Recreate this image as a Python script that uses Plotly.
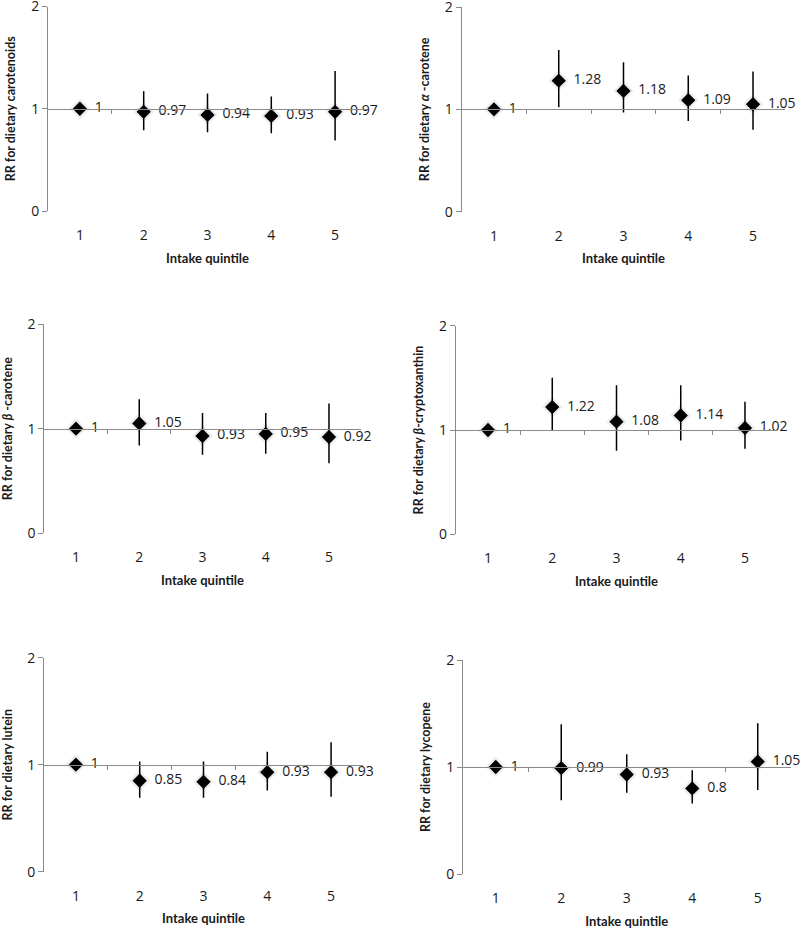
import plotly.graph_objects as go

W, H = 800, 929

quintiles = [1, 2, 3, 4, 5]
tick_labels = ["1", "2", "3", "4", "5"]

# RR values and 95% CI
carotenoids_rr = [1, 0.97, 0.94, 0.93, 0.97]
carotenoids_hi = [1, 1.17, 1.15, 1.12, 1.37]
carotenoids_lo = [1, 0.79, 0.77, 0.76, 0.69]

alpha_rr = [1, 1.28, 1.18, 1.09, 1.05]
alpha_hi = [1, 1.58, 1.46, 1.33, 1.37]
alpha_lo = [1, 1.02, 0.97, 0.885, 0.80]

beta_rr = [1, 1.05, 0.93, 0.95, 0.92]
beta_hi = [1, 1.28, 1.15, 1.15, 1.24]
beta_lo = [1, 0.84, 0.75, 0.76, 0.67]

crypto_rr = [1, 1.22, 1.08, 1.14, 1.02]
crypto_hi = [1, 1.50, 1.43, 1.43, 1.27]
crypto_lo = [1, 0.99, 0.80, 0.90, 0.82]

lutein_rr = [1, 0.85, 0.84, 0.93, 0.93]
lutein_hi = [1, 1.03, 1.03, 1.12, 1.21]
lutein_lo = [1, 0.69, 0.69, 0.76, 0.70]

lycopene_rr = [1, 0.99, 0.93, 0.8, 1.05]
lycopene_hi = [1, 1.40, 1.12, 0.97, 1.41]
lycopene_lo = [1, 0.69, 0.76, 0.66, 0.785]

y_titles = [
    "RR for dietary carotenoids",
    "RR for dietary <i>α</i> -carotene",
    "RR for dietary <i>β</i> -carotene",
    "RR for dietary <i>β</i>-cryptoxanthin",
    "RR for dietary lutein",
    "RR for dietary lycopene",
]
x_title = "Intake quintile"

series = [
    (carotenoids_rr, carotenoids_hi, carotenoids_lo),
    (alpha_rr, alpha_hi, alpha_lo),
    (beta_rr, beta_hi, beta_lo),
    (crypto_rr, crypto_hi, crypto_lo),
    (lutein_rr, lutein_hi, lutein_lo),
    (lycopene_rr, lycopene_hi, lycopene_lo),
]

# panel placement in pixels: (left, right, top, bottom)
panels_px = [
    (48, 367, 6.5, 211),
    (461.6, 785.4, 7, 211.7),
    (44.4, 360.6, 324, 533.3),
    (455.9, 777.1, 325.7, 534.3),
    (44, 363, 657.7, 871.7),
    (463, 790.5, 660, 874),
]

NUMFONT = "Open Sans"
TITLEFONT = "Lato"
GREY = "#8a8a8a"
TXT = "#1a1a1a"

fig = go.Figure()
layout = dict(
    width=W, height=H,
    margin=dict(l=0, r=0, t=0, b=0, autoexpand=False),
    paper_bgcolor="white", plot_bgcolor="white",
    showlegend=False,
    font=dict(family=NUMFONT, size=14, color=TXT),
)

for i, ((rr, hi, lo), (l, r, t, b)) in enumerate(zip(series, panels_px)):
    n = i + 1
    xs = "" if n == 1 else str(n)
    k = 6 + n
    xd = [l / W, r / W]
    yd = [1 - b / H, 1 - t / H]
    up = [h - v for h, v in zip(hi, rr)]
    dn = [v - lo_ for v, lo_ in zip(rr, lo)]
    # invisible trace so the RR = 1 crossing axis gets drawn
    fig.add_trace(go.Scatter(
        x=quintiles, y=rr, mode="markers", marker=dict(opacity=0),
        xaxis="x" + str(k), yaxis="y" + xs, hoverinfo="skip",
    ))
    # soft shadow
    fig.add_trace(go.Scatter(
        x=quintiles, y=rr, mode="markers",
        marker=dict(symbol="diamond", size=16, color="rgba(0,0,0,0.07)"),
        xaxis="x" + xs, yaxis="y" + xs, hoverinfo="skip",
    ))
    fig.add_trace(go.Scatter(
        x=quintiles, y=rr, mode="markers+text",
        text=["\u2002" + f"{v:g}" for v in rr],
        textposition="middle right",
        textfont=dict(family=NUMFONT, size=14, color=TXT),
        marker=dict(symbol="diamond", size=11, color="black"),
        error_y=dict(type="data", symmetric=False, array=up, arrayminus=dn,
                     color="black", thickness=1.5, width=0),
        cliponaxis=False,
        xaxis="x" + xs, yaxis="y" + xs,
    ))
    layout["xaxis" + xs] = dict(
        domain=xd, anchor="y" + xs, range=[0.5, 5.5], automargin=False,
        tickvals=quintiles, ticktext=tick_labels,
        showline=False, showgrid=False, zeroline=False, ticks="",
        ticklabelstandoff=14, ticklabeloverflow="allow",
        tickfont=dict(family=NUMFONT, size=14, color=TXT),
        title=dict(text=x_title, standoff=10,
                   font=dict(family=TITLEFONT, size=13, color=TXT, weight="bold")),
    )
    layout["yaxis" + xs] = dict(
        domain=yd, anchor="x" + xs, range=[0, 2], automargin=False,
        tickvals=[0, 1, 2],
        showline=True, linecolor=GREY, linewidth=1,
        ticks="outside", ticklen=5, tickcolor=GREY,
        ticklabeloverflow="allow",
        showgrid=False, zeroline=False,
        tickfont=dict(family=NUMFONT, size=14, color=TXT),
        title=dict(text=y_titles[i], standoff=12,
                   font=dict(family=TITLEFONT, size=12.5, color=TXT, weight="bold")),
    )
    # horizontal axis crossing at RR = 1, with tick marks between categories
    layout["xaxis" + str(k)] = dict(
        domain=xd, overlaying="x" + xs, anchor="free", automargin=False,
        position=(yd[0] + yd[1]) / 2, range=[0.5, 5.5],
        showline=True, linecolor=GREY, linewidth=1,
        tickvals=[1.5, 2.5, 3.5, 4.5], ticks="outside", ticklen=4, tickcolor=GREY,
        showticklabels=False, showgrid=False, zeroline=False,
    )

fig.update_layout(**layout)
fig.write_html("out.html", config={"displayModeBar": False},
               post_script="document.body.style.margin='0';")
